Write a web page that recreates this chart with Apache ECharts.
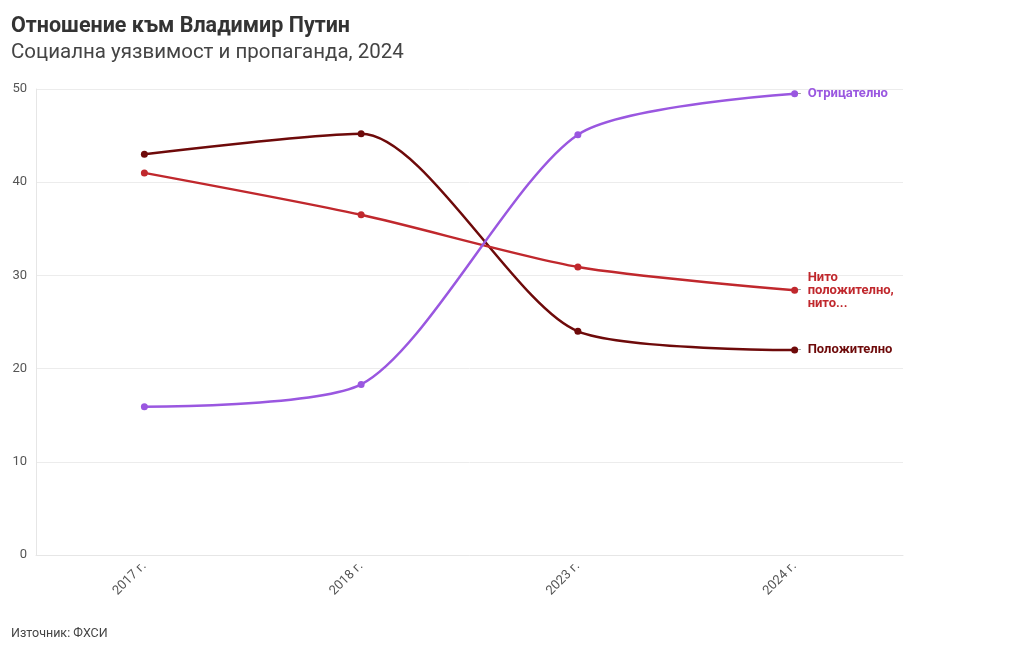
<!DOCTYPE html>
<html><head><meta charset="utf-8">
<script src="https://cdn.jsdelivr.net/npm/echarts@6/dist/echarts.min.js"></script>
<style>html,body{margin:0;padding:0;background:#fff}#c{width:1020px;height:650px}</style>
</head><body><div id="c"></div>
<script>
const categories = ['2017 г.', '2018 г.', '2023 г.', '2024 г.'];
const positive = [43.0, 45.2, 24.0, 22.0];
const neutral = [41.0, 36.5, 30.9, 28.4];
const negative = [15.9, 18.3, 45.1, 49.5];
const seriesNames = ['Положително', 'Нито положително, нито отрицателно', 'Отрицателно'];
const endLabels = ['Положително', 'Нито\nположително,\nнито...', 'Отрицателно'];
const colors = ['#6e0a0a', '#c0282d', '#9a57e0'];
const yTicks = [0, 10, 20, 30, 40, 50];

const FONT = 'Roboto';
const chart = echarts.init(document.getElementById('c'));
function labelText(i) {
  const lines = endLabels[i].split('\n');
  const mid = Math.floor((lines.length - 1) / 2);
  return lines.map((l, k) => (k === mid ? '{d|-}' : '{s|}') + '{t|' + l + '}').join('\n');
}
function mk(i, data) {
  return {
    name: seriesNames[i], type: 'line', data: data,
    smooth: 0.25,
    symbol: 'circle', symbolSize: 7,
    lineStyle: { color: colors[i], width: 2.5 },
    itemStyle: { color: colors[i] },
    endLabel: {
      show: true, distance: 3,
      formatter: () => labelText(i),
      rich: {
        d: { color: '#999', fontSize: 12, fontFamily: FONT, width: 10, lineHeight: 13 },
        s: { width: 10, lineHeight: 13 },
        t: { color: colors[i], fontSize: 13, fontWeight: 'bold', fontFamily: FONT, lineHeight: 13 }
      }
    },
    emphasis: { disabled: true }
  };
}
chart.setOption({
  animation: false,
  textStyle: { fontFamily: FONT },
  title: [
    { text: 'Отношение към Владимир Путин', left: 6, top: 11,
      textStyle: { fontSize: 21.5, fontWeight: 'bold', color: '#333', fontFamily: FONT } },
    { text: 'Социална уязвимост и пропаганда, 2024', left: 6, top: 37,
      textStyle: { fontSize: 20.5, fontWeight: 'normal', color: '#444', fontFamily: FONT } },
    { text: 'Източник: ФХСИ', left: 6, top: 622,
      textStyle: { fontSize: 12.5, fontWeight: 'normal', color: '#444', fontFamily: FONT } }
  ],
  grid: { left: 36, right: 117, top: 89, bottom: 95 },
  xAxis: {
    type: 'category', data: categories, boundaryGap: true,
    axisLine: { lineStyle: { color: '#e6e6e6' } },
    axisTick: { alignWithLabel: true, lineStyle: { color: '#e6e6e6' }, length: 5 },
    axisLabel: { rotate: 45, color: '#555', fontSize: 13, margin: 9, fontFamily: FONT },
    splitLine: { show: false }
  },
  yAxis: {
    type: 'value', min: yTicks[0], max: yTicks[yTicks.length - 1], interval: 10,
    axisLine: { show: true, lineStyle: { color: '#e6e6e6' } },
    axisTick: { show: false },
    axisLabel: { color: '#555', fontSize: 13, margin: 9, fontFamily: FONT },
    splitLine: { lineStyle: { color: '#ececec' } }
  },
  series: [mk(0, positive), mk(1, neutral), mk(2, negative)]
});
</script></body></html>
